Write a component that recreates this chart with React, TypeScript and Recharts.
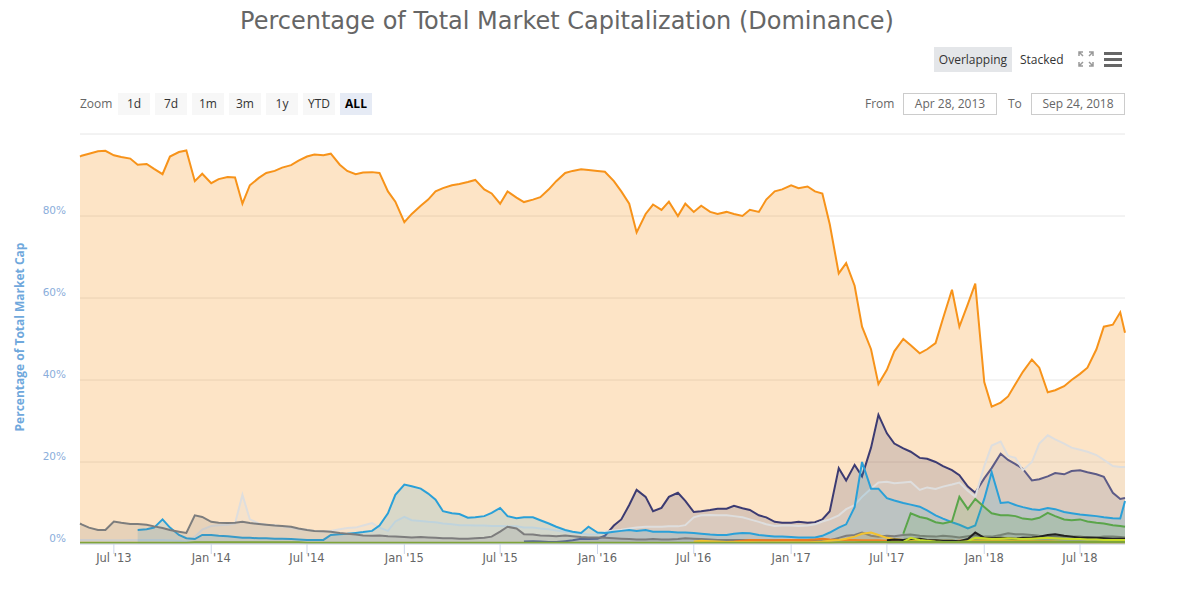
import React from "react"
import { ComposedChart, Area, XAxis, YAxis, CartesianGrid } from "recharts"

const START = Date.UTC(2013, 3, 28)
const END = Date.UTC(2018, 8, 24)

// sample dates: Apr 28 2013, then the 1st and 15th of every month, then Sep 24 2018
const sampleDates: number[] = (() => {
  const out = [START]
  for (let y = 2013; y <= 2018; y++) {
    for (let m = 0; m < 12; m++) {
      for (const d of [1, 15]) {
        const t = Date.UTC(y, m, d)
        if (t > START && t < END) out.push(t)
      }
    }
  }
  out.push(END)
  return out
})()

const xTickDates = [
  "2013-07-01", "2014-01-01", "2014-07-01", "2015-01-01", "2015-07-01", "2016-01-01",
  "2016-07-01", "2017-01-01", "2017-07-01", "2018-01-01", "2018-07-01",
]
const yTicks = [0, 20, 40, 60, 80, 100]
const MONTHS = ["Jan", "Feb", "Mar", "Apr", "May", "Jun", "Jul", "Aug", "Sep", "Oct", "Nov", "Dec"]

// % of total market cap, one value per sample date (from series start)
const bitcoin = [
  94.5, 94.7, 95.2, 95.8, 95.9, 94.8, 94.4, 94.0, 92.5, 92.7, 91.5, 90.2, 94.5, 95.6, 96.0, 88.5, 90.3,
  88.0, 89.0, 89.5, 89.4, 83.0, 87.5, 89.3, 90.5, 91.0, 91.8, 92.4, 93.5, 94.5, 95.0, 94.8, 95.2, 92.5, 91.0, 90.2, 90.6, 90.7, 90.5, 86.0, 83.5,
  78.5, 80.5, 82.5, 84.0, 86.0, 86.8, 87.5, 87.8, 88.3, 88.8, 86.5, 85.5, 83.0, 86.0, 84.5, 83.4, 84.0, 84.6, 86.5, 88.5, 90.5, 91.0, 91.4, 91.2,
  91.0, 90.8, 88.5, 86.0, 83.0, 76.0, 80.5, 82.8, 81.5, 83.5, 80.0, 83.0, 81.0, 82.5, 81.0, 80.5, 81.0, 80.5, 80.0, 81.5, 81.0, 84.0, 86.0, 86.5,
  87.5, 86.8, 87.2, 86.0, 85.5, 78.0, 66.0, 68.5, 63.0, 53.0, 47.5, 39.0, 42.5, 47.0, 50.0, 48.5, 46.5, 47.5, 49.0, 55.0, 62.0, 53.0, 58.5, 63.5,
  39.5, 33.5, 34.5, 36.0, 39.0, 42.0, 45.0, 43.0, 37.0, 37.5, 38.5, 40.0, 41.5, 43.0, 47.5, 53.0, 53.5, 56.5, 51.5,
]

const ethereum = [
  0.6, 0.7, 0.6, 0.5, 0.5, 0.7, 0.9, 1.3, 1.2,
  1.3, 2.0, 4.5, 6.0, 9.5, 13.2, 11.5, 8.0, 8.8, 11.5, 12.5, 10.5, 7.8, 8.0, 8.3, 8.6, 8.6, 9.3, 8.7, 8.3, 7.0, 6.5, 5.4, 5.2,
  5.2, 5.4, 5.2, 5.3, 6.0, 8.0, 18.5, 15.5, 19.3, 16.5, 23.5, 31.5, 27.0, 24.5, 23.3, 22.5, 21.0, 20.8, 20.0, 19.0, 18.0, 16.8, 14.0, 12.5,
  16.0, 18.5, 22.0, 20.5, 19.5, 18.3, 15.5, 15.8, 16.5, 17.3, 17.0, 17.8, 18.0, 17.5, 17.0, 16.4, 12.5, 11.0, 11.2,
]

const others = [
  1.0, 1.0, 1.0, 1.0, 0.9, 0.9, 0.9, 1.0, 1.0, 1.0, 1.0, 1.0, 0.9, 0.8, 0.6, 1.8, 3.5,
  4.4, 4.6, 4.7, 5.0, 12.0, 6.0, 5.0, 4.7, 4.6, 4.3, 4.0, 3.6, 3.5, 3.2, 3.0, 3.2, 3.6, 3.9, 4.0, 4.5, 5.1, 4.0, 3.2, 5.5,
  6.6, 5.8, 5.6, 5.4, 5.3, 5.0, 4.8, 4.6, 4.6, 4.5, 4.5, 4.4, 4.4, 4.3, 4.3, 4.0, 4.0, 3.8, 3.6, 3.3, 3.0, 2.8, 2.6, 2.3,
  2.4, 3.0, 3.3, 3.5, 3.8, 4.0, 4.2, 4.2, 4.2, 4.3, 4.3, 4.6, 6.5, 7.0, 7.1, 7.0, 7.0, 6.8, 6.5, 6.0, 5.4, 4.8, 4.4, 4.5,
  4.5, 4.4, 4.5, 4.8, 5.5, 6.0, 7.0, 8.5, 9.5, 11.5, 13.5, 15.0, 15.2, 14.8, 15.0, 15.2, 13.2, 13.8, 13.4, 14.0, 14.5, 15.0, 13.0, 11.5,
  19.0, 24.0, 25.0, 21.5, 21.0, 18.0, 20.0, 24.5, 26.5, 25.5, 24.5, 23.5, 23.0, 22.5, 21.7, 20.5, 19.0, 18.8, 18.8,
]

const ripple = [
  3.4, 3.6, 4.0, 6.0, 4.0, 2.2, 1.4, 1.2, 2.2,
  2.2, 2.0, 1.9, 1.7, 1.5, 1.5, 1.4, 1.4, 1.3, 1.3, 1.2, 1.1, 1.0, 1.0, 1.0, 2.2, 2.4, 2.5, 2.7, 2.9, 3.2, 4.5, 7.5, 12.0,
  14.5, 14.1, 13.5, 12.3, 10.8, 8.0, 7.5, 7.3, 6.4, 6.5, 6.8, 7.6, 8.8, 6.8, 6.3, 6.5, 6.5, 5.8, 5.0, 4.2, 3.4, 3.0, 2.7, 4.2,
  2.8, 2.7, 3.0, 3.2, 3.4, 3.2, 3.4, 3.0, 3.0, 3.0, 2.8, 2.8, 2.7, 2.5, 2.3, 2.2, 2.2, 2.5, 2.7, 2.6, 2.2, 2.0, 1.8, 1.8,
  1.7, 1.6, 1.6, 1.6, 2.0, 2.8, 4.0, 4.8, 9.0, 20.0, 13.5, 13.5, 11.2, 10.6, 10.0, 9.6, 9.1, 8.2, 7.0, 6.2, 5.3, 4.7, 3.8, 4.5,
  11.0, 17.5, 10.0, 10.2, 9.5, 9.0, 8.5, 8.3, 8.8, 8.5, 7.8, 7.5, 7.2, 7.0, 6.8, 6.5, 6.3, 6.2, 10.5,
]

const litecoin = [
  5.0, 4.8, 4.0, 3.4, 3.4, 5.5, 5.2, 4.9, 4.9, 4.7, 4.3, 3.9, 3.4, 3.0, 2.7, 7.0, 6.6,
  5.4, 5.2, 5.1, 5.2, 5.4, 5.1, 4.9, 4.7, 4.5, 4.4, 4.2, 3.8, 3.4, 3.2, 3.1, 3.0, 2.7, 2.5, 2.3, 2.1, 2.0, 2.1, 1.9, 1.8,
  1.7, 1.6, 1.7, 1.6, 1.5, 1.4, 1.4, 1.3, 1.3, 1.4, 1.5, 1.8, 3.0, 4.2, 3.8, 2.4, 2.3, 2.1, 2.0, 1.9, 2.1, 1.9, 1.7, 1.6,
  1.6, 1.5, 1.4, 1.3, 1.2, 1.1, 1.1, 1.2, 1.1, 1.1, 1.2, 1.4, 1.3, 1.2, 1.1, 1.0, 1.0, 1.0, 1.0, 0.9, 0.9, 0.9, 0.9, 0.9,
  0.9, 0.8, 0.8, 0.8, 0.8, 0.9, 1.5, 2.0, 2.2, 2.8, 2.0, 1.8, 2.0, 1.9, 2.2, 2.3, 2.0, 1.9, 1.8, 2.0, 1.8, 1.6, 1.9, 2.2,
  1.8, 1.8, 2.2, 2.6, 2.4, 2.4, 2.2, 2.0, 1.9, 1.8, 1.8, 1.8, 1.8, 1.6, 1.6, 1.8, 1.8, 1.7, 1.6,
]

const bitcoinCash = [
  2.5, 7.5, 6.6, 6.2, 5.3, 5.0, 5.5, 11.5, 8.5, 11.0,
  9.0, 7.5, 7.0, 7.0, 6.8, 6.2, 6.0, 6.4, 7.6, 6.8, 6.0, 5.8, 6.0, 5.5, 5.2, 5.0, 4.6, 4.4, 4.2,
]

const dash = [
  0.5, 0.6, 0.8, 1.0, 1.0, 0.9, 0.9, 1.0,
  1.0, 1.0, 1.0, 1.1, 1.3, 1.1, 1.0, 1.0, 1.0, 0.9, 0.9, 0.9, 0.8, 0.8, 0.9, 0.9, 0.9, 0.8, 0.8, 0.7, 0.7, 0.8, 0.9, 0.8,
  0.7, 0.8, 0.8, 0.8, 0.7, 0.7, 0.6, 0.6, 0.6, 0.5, 0.5, 0.5, 0.5, 0.4, 0.4, 0.4, 0.4, 0.4, 0.4,
]

const nem = [
  0.6, 0.8, 0.7, 0.6, 0.5, 0.5, 0.5, 0.5, 0.4, 0.4, 0.4, 0.4,
  0.4, 0.4, 0.4, 0.5, 0.6, 0.8, 1.0, 1.3, 1.8, 2.5, 2.8, 2.2, 1.5, 1.2, 1.0, 1.0, 0.9, 0.9, 0.8, 0.8, 0.8, 0.7, 0.7, 0.8,
  0.9, 1.0, 0.9, 0.8, 0.7, 0.7, 0.7, 0.6, 0.6, 0.6, 0.5, 0.5, 0.5, 0.5, 0.4, 0.4, 0.4, 0.4, 0.4,
]

const eos = [
  0.9, 1.1, 1.0, 1.2, 1.3, 1.0, 0.9, 0.8, 0.8, 0.7, 1.2, 2.8,
  1.5, 1.4, 1.5, 1.4, 1.3, 1.5, 1.6, 1.8, 2.2, 2.4, 2.0, 1.8, 1.5, 1.6, 1.5, 1.4, 1.3, 1.3, 1.3,
]

const stellar = [
  0.5, 1.5, 1.0, 0.8, 0.6, 0.5, 0.5, 0.5, 0.7, 1.5,
  1.4, 1.2, 1.3, 1.4, 1.3, 1.2, 1.3, 1.4, 1.5, 1.4, 1.3, 1.2, 1.2, 1.1, 1.1, 1.0, 1.0, 1.0, 1.0,
]

const peercoin = [
  0.3, 0.3, 0.3, 0.3, 0.3, 0.3, 0.3, 0.3, 0.3, 0.3, 0.3, 0.3, 0.3, 0.3, 0.3, 0.4, 0.4,
  0.4, 0.4, 0.4, 0.4, 0.4, 0.4, 0.4, 0.4, 0.4, 0.4, 0.4, 0.4, 0.3, 0.3, 0.3, 0.3, 0.3, 0.3, 0.3, 0.3, 0.3, 0.3, 0.3, 0.3,
  0.3, 0.3, 0.3, 0.3, 0.3, 0.3, 0.3, 0.3, 0.3, 0.3, 0.3, 0.3, 0.3, 0.3, 0.3, 0.3, 0.3, 0.3, 0.3, 0.3, 0.3, 0.3, 0.3, 0.3,
  0.3, 0.3, 0.3, 0.3, 0.3, 0.3, 0.3, 0.3, 0.3, 0.3, 0.3, 0.3, 0.3, 0.3, 0.3, 0.3, 0.3, 0.3, 0.3, 0.3, 0.3, 0.3, 0.3, 0.3,
  0.3, 0.3, 0.3, 0.3, 0.3, 0.3, 0.4, 0.4, 0.4, 0.5, 0.5, 0.5, 0.5, 0.5, 0.5, 0.5, 0.5, 0.5, 0.5, 0.5, 0.5, 0.5, 0.5, 0.5,
  0.5, 0.5, 0.5, 0.5, 0.5, 0.5, 0.5, 0.5, 0.5, 0.5, 0.5, 0.5, 0.5, 0.5, 0.5, 0.5, 0.5, 0.5, 0.5,
]

const series = [
  { key: "btc", name: "Bitcoin", start: "2013-04-28", values: bitcoin, color: "#f7931a", fill: 0.25 },
  { key: "eth", name: "Ethereum", start: "2015-08-15", values: ethereum, color: "#3c3b72", fill: 0.18 },
  { key: "oth", name: "Others", start: "2013-04-28", values: others, color: "#dedede", fill: 0.2 },
  { key: "xrp", name: "Ripple", start: "2013-08-15", values: ripple, color: "#2aa0d8", fill: 0.17 },
  { key: "ltc", name: "Litecoin", start: "2013-04-28", values: litecoin, color: "#7d7d7d", fill: 0.17 },
  { key: "bch", name: "Bitcoin Cash", start: "2017-08-01", values: bitcoinCash, color: "#5aa54a", fill: 0.15 },
  { key: "dash", name: "Dash", start: "2016-09-01", values: dash, color: "#ec7a23", fill: 0.15 },
  { key: "xem", name: "NEM", start: "2016-07-01", values: nem, color: "#f2c230", fill: 0.15 },
  { key: "eos", name: "EOS", start: "2017-07-01", values: eos, color: "#222222", fill: 0.15 },
  { key: "xlm", name: "Stellar", start: "2017-08-01", values: stellar, color: "#c8dc2a", fill: 0.15 },
  { key: "ppc", name: "Peercoin", start: "2013-04-28", values: peercoin, color: "#7fa43a", fill: 0.15 },
]

const data = sampleDates.map((t, i) => {
  const row: Record<string, number | null> = { t }
  series.forEach((s) => {
    const offset = sampleDates.indexOf(Date.parse(s.start))
    const v = s.values[i - offset]
    row[s.key] = i >= offset && v !== undefined ? v : null
  })
  return row
})

const xTicks = xTickDates.map((d) => Date.parse(d))
const fmtDate = (t: number) => {
  const d = new Date(t)
  return `${MONTHS[d.getUTCMonth()]} '${String(d.getUTCFullYear()).slice(2)}`
}

const YTick = (props: any) => {
  const { y, payload } = props
  if (payload.value === 100) return <g />
  return (
    <text x={66} y={y - 2} textAnchor="end" fill="#8aaedb" fontSize={10.5} fontFamily="DejaVu Sans">
      {payload.value}%
    </text>
  )
}

const btn: React.CSSProperties = {
  position: "absolute",
  top: 93,
  width: 32,
  height: 22,
  background: "#f7f7f7",
  color: "#333",
  fontSize: 12,
  lineHeight: "22px",
  textAlign: "center",
}

const zoomButtons = ["1d", "7d", "1m", "3m", "1y", "YTD", "ALL"]

export default function App() {
  const font = "'Open Sans', 'DejaVu Sans', sans-serif"
  return (
    <div style={{ position: "absolute", left: 0, top: 0, width: 1188, height: 593, background: "#fff", overflow: "hidden", fontFamily: font }}>
      <ComposedChart width={1188} height={593} data={data} margin={{ top: 134, right: 63, bottom: 19, left: 0 }}>
        <CartesianGrid horizontal vertical={false} stroke="#e6e6e6" />
        <XAxis
          type="number"
          dataKey="t"
          domain={[START, END]}
          ticks={xTicks}
          tickFormatter={fmtDate}
          height={30}
          tickSize={10}
          tickMargin={0}
          axisLine={{ stroke: "#ccd6eb" }}
          tickLine={{ stroke: "#ccd6eb" }}
          tick={{ fill: "#666", fontSize: 11.5, fontFamily: "DejaVu Sans" }}
        />
        <YAxis type="number" domain={[0, 100]} ticks={yTicks} width={80} axisLine={false} tickLine={false} tick={<YTick />} />
        {series.map((s) => (
          <Area
            key={s.key}
            name={s.name}
            type="linear"
            dataKey={s.key}
            stroke={s.color}
            strokeWidth={2}
            fill={s.color}
            fillOpacity={s.fill}
            dot={false}
            activeDot={false}
            isAnimationActive={false}
          />
        ))}
      </ComposedChart>

      <div style={{ position: "absolute", left: 0, width: 1134, top: 7, textAlign: "center", fontFamily: "DejaVu Sans", fontSize: 24, color: "#666" }}>
        Percentage of Total Market Capitalization (Dominance)
      </div>

      <div style={{ position: "absolute", left: 19, top: 337, transform: "translate(-50%, -50%) rotate(-90deg)", whiteSpace: "nowrap", fontSize: 12, fontWeight: 700, color: "#6fa8dc" }}>
        Percentage of Total Market Cap
      </div>

      <div style={{ position: "absolute", left: 934, top: 47, width: 78, height: 25, background: "#e4e6e9", color: "#333", fontSize: 12, lineHeight: "25px", textAlign: "center" }}>
        Overlapping
      </div>
      <div style={{ position: "absolute", left: 1020, top: 47, height: 25, color: "#333", fontSize: 12, lineHeight: "25px" }}>Stacked</div>
      <svg style={{ position: "absolute", left: 1078, top: 51 }} width={16} height={16}>
        <g stroke="#999" strokeWidth={1.5} fill="none">
          <path d="M1 5 V1 H5 M1 1 L5 5" />
          <path d="M11 1 H15 V5 M15 1 L11 5" />
          <path d="M1 11 V15 H5 M1 15 L5 11" />
          <path d="M15 11 V15 H11 M15 15 L11 11" />
        </g>
      </svg>
      <svg style={{ position: "absolute", left: 1104, top: 51 }} width={18} height={16}>
        <g fill="#666">
          <rect x={0} y={1} width={18} height={3} />
          <rect x={0} y={7} width={18} height={3} />
          <rect x={0} y={13} width={18} height={3} />
        </g>
      </svg>

      <div style={{ position: "absolute", left: 80, top: 93, height: 22, lineHeight: "22px", fontSize: 12, color: "#666" }}>Zoom</div>
      {zoomButtons.map((b, i) => (
        <div
          key={b}
          style={{
            ...btn,
            left: 118 + i * 37,
            background: b === "ALL" ? "#e6ebf5" : "#f7f7f7",
            fontWeight: b === "ALL" ? 700 : 400,
            color: b === "ALL" ? "#000" : "#333",
          }}
        >
          {b}
        </div>
      ))}

      <div style={{ position: "absolute", left: 865, top: 93, height: 22, lineHeight: "22px", fontSize: 12, color: "#666" }}>From</div>
      <div style={{ position: "absolute", left: 903, top: 93, width: 92, height: 20, border: "1px solid #ccc", lineHeight: "20px", textAlign: "center", fontSize: 12, color: "#666" }}>
        Apr 28, 2013
      </div>
      <div style={{ position: "absolute", left: 1008, top: 93, height: 22, lineHeight: "22px", fontSize: 12, color: "#666" }}>To</div>
      <div style={{ position: "absolute", left: 1031, top: 93, width: 92, height: 20, border: "1px solid #ccc", lineHeight: "20px", textAlign: "center", fontSize: 12, color: "#666" }}>
        Sep 24, 2018
      </div>
    </div>
  )
}
